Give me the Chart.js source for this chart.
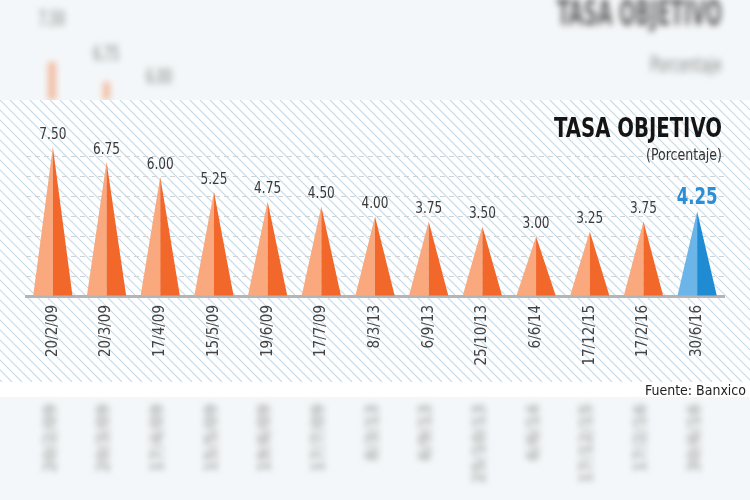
<!DOCTYPE html>
<html>
<head>
<meta charset="utf-8">
<script src="https://cdn.jsdelivr.net/npm/chart.js@4"></script>
<style>
  html, body { margin: 0; padding: 0; background: #f4f7f9; }
  #wrap { width: 750px; height: 500px; }
</style>
</head>
<body>
<div id="wrap"><canvas id="tasa-chart" width="750" height="500"></canvas></div>
<script>
const ctxEl = document.getElementById("tasa-chart");

// Fechas de los movimientos de la tasa
const fechas = [
  "20/2/09", "20/3/09", "17/4/09", "15/5/09", "19/6/09", "17/7/09",
  "8/3/13", "6/9/13", "25/10/13", "6/6/14", "17/12/15", "17/2/16", "30/6/16",
];
// Tasa objetivo (%)
const tasas = [7.5, 6.75, 6.0, 5.25, 4.75, 4.5, 4.0, 3.75, 3.5, 3.0, 3.25, 3.75, 4.25];
const etiquetas = ["7.50", "6.75", "6.00", "5.25", "4.75", "4.50", "4.00", "3.75", "3.50", "3.00", "3.25", "3.75", "4.25"];

const titulo = "TASA OBJETIVO";
const subtitulo = "(Porcentaje)";
const fuente = "Fuente: Banxico";

const NARROW = '"Liberation Sans Narrow", "DejaVu Sans Condensed", sans-serif';

// Fondo: zonas borrosas arriba/abajo, panel blanco con rayas diagonales
const fondoPlugin = {
  id: "fondo",
  beforeDraw(chart) {
    const { ctx } = chart;
    const x = chart.scales.x;
    ctx.save();
    ctx.fillStyle = "#f4f7f9";
    ctx.fillRect(0, 0, 750, 500);

    // reflejo borroso superior
    ctx.filter = "blur(3px)";
    ctx.fillStyle = "rgba(110,110,110,0.55)";
    ctx.font = "bold 22px " + NARROW;
    ctx.textAlign = "center";
    ctx.textBaseline = "middle";
    ctx.fillText("7.50", 52, 20, 26);
    ctx.fillText("6.75", 106, 55, 26);
    ctx.fillText("6.00", 159, 78, 26);
    ctx.fillStyle = "rgba(240,120,60,0.45)";
    ctx.fillRect(48, 62, 8, 38);
    ctx.fillRect(103, 82, 7, 18);
    ctx.fillStyle = "rgba(60,60,60,0.8)";
    ctx.font = "bold 36px " + NARROW;
    ctx.textAlign = "right";
    ctx.fillText(titulo, 722, 16, 165);
    ctx.fillStyle = "rgba(80,80,80,0.65)";
    ctx.font = "22px " + NARROW;
    ctx.fillText("Porcentaje", 722, 66, 72);

    // reflejo borroso inferior
    ctx.fillStyle = "rgba(120,120,120,0.55)";
    ctx.font = "bold 18px " + NARROW;
    fechas.forEach((f, i) => {
      const px = x.getPixelForValue(i) - 2;
      ctx.save();
      ctx.translate(px, 404);
      ctx.rotate(-Math.PI / 2);
      ctx.textAlign = "right";
      ctx.fillText(f, 0, 0);
      ctx.restore();
    });
    ctx.filter = "none";

    // panel blanco
    ctx.fillStyle = "#ffffff";
    ctx.fillRect(0, 100, 750, 297);

    // rayas diagonales
    ctx.beginPath();
    ctx.rect(0, 100, 750, 282);
    ctx.clip();
    ctx.strokeStyle = "#c6dae7";
    ctx.lineWidth = 1.1;
    ctx.beginPath();
    for (let sx = -400; sx < 800; sx += 10) {
      ctx.moveTo(sx, 100);
      ctx.lineTo(sx + 282, 382);
    }
    ctx.stroke();
    ctx.restore();
  },
};

// Barras en forma de pico, en dos tonos
const picosPlugin = {
  id: "picos",
  afterDatasetsDraw(chart) {
    const { ctx } = chart;
    const meta = chart.getDatasetMeta(0);
    const ultimo = meta.data.length - 1;
    ctx.save();
    meta.data.forEach((bar, i) => {
      const { x, y, base, width } = bar.getProps(["x", "y", "base", "width"], true);
      const claro = i === ultimo ? "#6cb5e9" : "#f9a97d";
      const oscuro = i === ultimo ? "#1f8bd3" : "#f2672a";
      ctx.fillStyle = claro;
      ctx.beginPath();
      ctx.moveTo(x - width / 2, base);
      ctx.lineTo(x, y);
      ctx.lineTo(x, base);
      ctx.closePath();
      ctx.fill();
      ctx.fillStyle = oscuro;
      ctx.beginPath();
      ctx.moveTo(x, base);
      ctx.lineTo(x, y);
      ctx.lineTo(x + width / 2, base);
      ctx.closePath();
      ctx.fill();

      ctx.textAlign = "center";
      ctx.textBaseline = "middle";
      if (i === ultimo) {
        ctx.fillStyle = "#2a8fd6";
        ctx.font = "bold 23px " + NARROW;
        ctx.fillText(etiquetas[i], x, y - 14, 41);
      } else {
        ctx.fillStyle = "#3a3a3a";
        ctx.font = "15px " + NARROW;
        ctx.fillText(etiquetas[i], x, y - 12, 27);
      }
    });
    ctx.restore();
  },
  afterDraw(chart) {
    const { ctx } = chart;
    ctx.save();
    ctx.textAlign = "right";
    ctx.textBaseline = "alphabetic";
    ctx.fillStyle = "#141414";
    ctx.font = "bold 27px " + NARROW;
    ctx.fillText(titulo, 722, 137, 168);
    ctx.fillStyle = "#333333";
    ctx.font = "15px " + NARROW;
    ctx.fillText(subtitulo, 722, 160, 76);
    ctx.fillStyle = "#222222";
    ctx.font = "14px " + NARROW;
    ctx.fillText(fuente, 746, 395);
    ctx.restore();
  },
};

const graficoTasa = new Chart(ctxEl, {
  type: "bar",
  data: {
    labels: fechas,
    datasets: [
      {
        label: "Tasa objetivo",
        data: tasas,
        backgroundColor: "rgba(0,0,0,0)",
        borderWidth: 0,
        barPercentage: 0.73,
        categoryPercentage: 1,
      },
    ],
  },
  options: {
    responsive: false,
    animation: false,
    layout: { padding: { left: 26, right: 26, top: 137, bottom: 104 } },
    plugins: {
      legend: { display: false },
      tooltip: { enabled: false },
    },
    scales: {
      x: {
        afterFit: (scale) => { scale.height = 100; },
        grid: { display: false, drawTicks: false },
        border: { display: true, color: "#b5b5b5", width: 3 },
        ticks: {
          minRotation: 90,
          maxRotation: 90,
          padding: 9,
          color: "#444444",
          font: { family: NARROW, size: 15 },
        },
      },
      y: {
        min: 0,
        max: 8,
        afterFit: (scale) => { scale.width = 0; },
        ticks: { display: false, stepSize: 1 },
        border: { display: true, color: "rgba(0,0,0,0)", width: 0, dash: [5, 4] },
        grid: {
          drawTicks: false,
          color: (c) => (c.tick.value === 0 || c.tick.value === 8 ? "rgba(0,0,0,0)" : "#cfd3d6"),
          lineWidth: 1,
        },
      },
    },
  },
  plugins: [fondoPlugin, picosPlugin],
});
</script>
</body>
</html>
